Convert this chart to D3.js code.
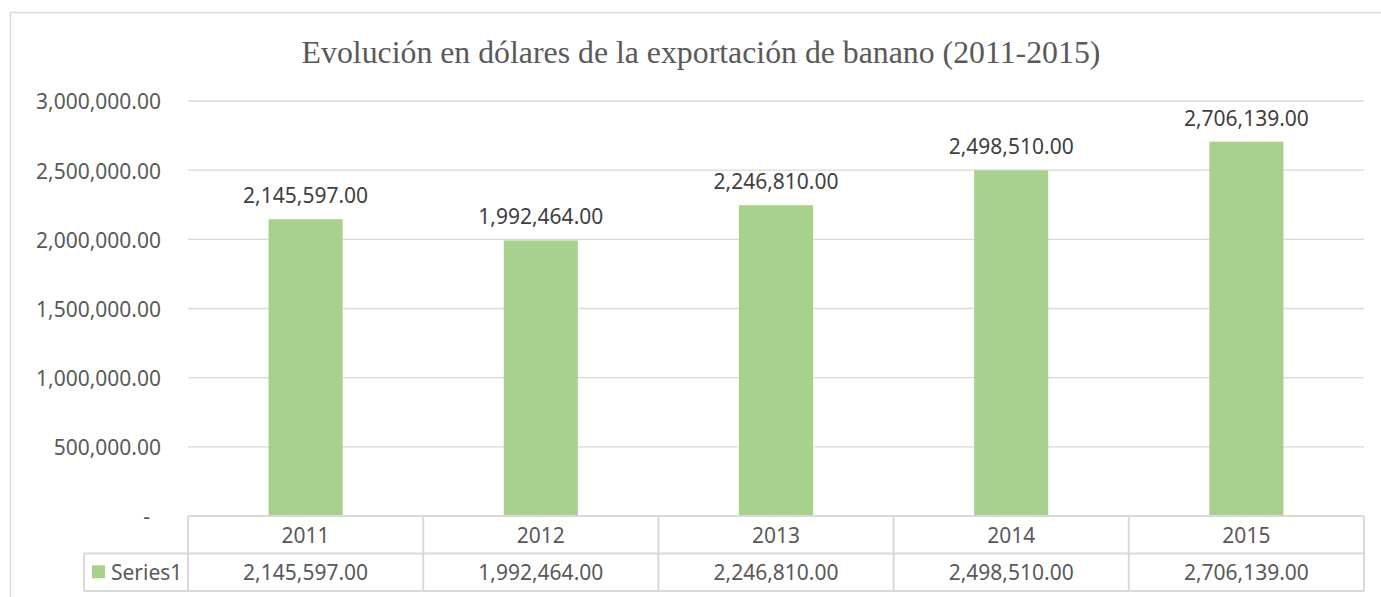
<!DOCTYPE html>
<html>
<head>
<meta charset="utf-8">
<script src="https://cdnjs.cloudflare.com/ajax/libs/d3/7.8.5/d3.min.js"></script>
<style>
  body { margin: 0; background: #fff; }
  svg { display: block; }
  text { font-family: "Noto Sans", sans-serif; }
</style>
</head>
<body>
<div id="chart"></div>
<script>
var years = ["2011", "2012", "2013", "2014", "2015"];
var values = [2145597, 1992464, 2246810, 2498510, 2706139];
var yTicks = [0, 500000, 1000000, 1500000, 2000000, 2500000, 3000000];
var seriesName = "Series1";
var title = "Evolución en dólares de la exportación de banano (2011-2015)";

var W = 1381, H = 597;
var plotLeft = 188, plotRight = 1364, plotTop = 101, plotBottom = 516;
var rowH = 37.5;
var FS = "21px";
var GRID = "#d9d9d9";
var BAR = "#a9d18e";

var svg = d3.select("#chart").append("svg")
    .attr("width", W).attr("height", H);

// chart border
svg.append("rect")
    .attr("x", 10.5).attr("y", 12.5)
    .attr("width", W + 20).attr("height", H + 20)
    .attr("fill", "none").attr("stroke", GRID).attr("stroke-width", 1.5);

svg.append("text")
    .attr("x", 701).attr("y", 63)
    .attr("text-anchor", "middle")
    .style("font-family", "'Liberation Serif', 'Times New Roman', serif")
    .style("font-size", "31.8px")
    .attr("fill", "#595959")
    .text(title);

var x = d3.scaleBand().domain(years).range([plotLeft, plotRight]).paddingInner(0).paddingOuter(0);
var y = d3.scaleLinear().domain([0, 3000000]).range([plotBottom, plotTop]);

var fmt = d3.format(",.2f");

// gridlines
svg.append("g").selectAll("line")
    .data(yTicks.filter(function(d) { return d > 0; }))
    .enter().append("line")
    .attr("x1", plotLeft).attr("x2", plotRight)
    .attr("y1", function(d) { return y(d); })
    .attr("y2", function(d) { return y(d); })
    .attr("stroke", GRID).attr("stroke-width", 1.3);

// y labels
svg.append("g").selectAll("text")
    .data(yTicks)
    .enter().append("text")
    .attr("x", function(d) { return d === 0 ? 150 : 161; })
    .attr("y", function(d) { return y(d) + 1; })
    .attr("dy", "0.35em")
    .attr("text-anchor", "end")
    .style("font-size", FS)
    .attr("fill", "#595959")
    .text(function(d) { return d === 0 ? "-" : fmt(d); });

// bars
var barW = x.bandwidth() * 0.315;
svg.append("g").selectAll("rect")
    .data(values)
    .enter().append("rect")
    .attr("x", function(d, i) { return x(years[i]) + (x.bandwidth() - barW) / 2; })
    .attr("y", function(d) { return y(d); })
    .attr("width", barW)
    .attr("height", function(d) { return y(0) - y(d); })
    .attr("fill", BAR);

// data labels
svg.append("g").selectAll("text")
    .data(values)
    .enter().append("text")
    .attr("x", function(d, i) { return x(years[i]) + x.bandwidth() / 2; })
    .attr("y", function(d) { return y(d) - 16; })
    .attr("text-anchor", "middle")
    .style("font-size", FS)
    .attr("fill", "#404040")
    .text(function(d) { return fmt(d); });

// data table
var t = svg.append("g").attr("stroke", GRID).attr("stroke-width", 2).attr("fill", "none");
t.append("line").attr("x1", plotLeft).attr("x2", plotRight).attr("y1", plotBottom).attr("y2", plotBottom);
t.append("line").attr("x1", 84).attr("x2", plotRight).attr("y1", plotBottom + rowH).attr("y2", plotBottom + rowH);
t.append("line").attr("x1", 84).attr("x2", plotRight).attr("y1", plotBottom + 2 * rowH).attr("y2", plotBottom + 2 * rowH);
t.append("line").attr("x1", 84).attr("x2", 84).attr("y1", plotBottom + rowH).attr("y2", plotBottom + 2 * rowH);
t.selectAll("line.col")
    .data(years.map(function(d) { return x(d); }).concat([plotRight]))
    .enter().append("line")
    .attr("class", "col")
    .attr("x1", function(d) { return d; }).attr("x2", function(d) { return d; })
    .attr("y1", plotBottom).attr("y2", plotBottom + 2 * rowH);

svg.append("g").selectAll("text")
    .data(years)
    .enter().append("text")
    .attr("x", function(d) { return x(d) + x.bandwidth() / 2; })
    .attr("y", plotBottom + rowH / 2 + 1)
    .attr("dy", "0.35em")
    .attr("text-anchor", "middle")
    .style("font-size", FS)
    .attr("fill", "#595959")
    .text(function(d) { return d; });

svg.append("g").selectAll("text")
    .data(values)
    .enter().append("text")
    .attr("x", function(d, i) { return x(years[i]) + x.bandwidth() / 2; })
    .attr("y", plotBottom + rowH * 1.5)
    .attr("dy", "0.35em")
    .attr("text-anchor", "middle")
    .style("font-size", FS)
    .attr("fill", "#595959")
    .text(function(d) { return fmt(d); });

// legend key
svg.append("rect")
    .attr("x", 92).attr("y", plotBottom + rowH * 1.5 - 7)
    .attr("width", 13).attr("height", 13)
    .attr("fill", BAR);
svg.append("text")
    .attr("x", 111).attr("y", plotBottom + rowH * 1.5)
    .attr("dy", "0.35em")
    .style("font-size", FS)
    .attr("fill", "#595959")
    .text(seriesName);
</script>
</body>
</html>
